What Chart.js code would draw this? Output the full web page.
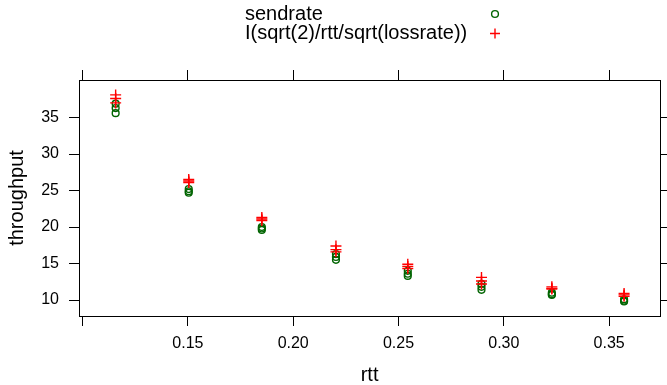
<!DOCTYPE html>
<html>
<head>
<meta charset="utf-8">
<script src="https://cdn.jsdelivr.net/npm/chart.js@4/dist/chart.umd.min.js"></script>
<style>
  html, body { margin: 0; padding: 0; background: #fff; }
  #wrap { position: relative; width: 667px; height: 385px; }
  #c { position: absolute; left: 0; top: 0; }
  .lg { position: absolute; left: 245px; font-family: "Liberation Sans", Arial, sans-serif; font-size: 20px; line-height: 19px; color: #000; white-space: nowrap; }
  #sym { position: absolute; left: 0; top: 0; }
</style>
</head>
<body>
<div id="wrap">
  <canvas id="c" width="667" height="385"></canvas>
  <div class="lg" style="top:4px">sendrate</div>
  <div class="lg" style="top:23px">I(sqrt(2)/rtt/sqrt(lossrate))</div>
  <svg id="sym" width="667" height="60">
    <circle cx="495" cy="14" r="3.4" fill="none" stroke="#006400" stroke-width="1.4"/>
    <path d="M490 33.5 H500 M495 28.5 V38.5" stroke="#ff0000" stroke-width="1.4" fill="none"/>
  </svg>
</div>
<script>
// ---- data ----
const rtt = [
  0.1157, 0.1157, 0.1157,
  0.1504, 0.1504, 0.1504,
  0.1851, 0.1851, 0.1851,
  0.2203, 0.2203, 0.2203,
  0.2544, 0.2544, 0.2544,
  0.2894, 0.2894, 0.2894,
  0.3228, 0.3228, 0.3228,
  0.3571, 0.3571, 0.3571
];
const sendrate = [
  36.9, 36.3, 35.6,
  25.2, 24.9, 24.7,
  20.0, 19.8, 19.6,
  16.3, 15.9, 15.5,
  14.0, 13.6, 13.3,
  12.2, 11.8, 11.4,
  11.0, 10.8, 10.7,
  10.1, 9.9, 9.8
];
const modelRate = [
  38.1, 37.6, 37.0,
  26.5, 26.3, 26.1,
  21.3, 21.1, 20.9,
  17.4, 16.9, 16.6,
  14.9, 14.6, 14.3,
  13.1, 12.6, 12.2,
  11.8, 11.6, 11.5,
  10.9, 10.7, 10.5
];
const xTicks = [0.10, 0.15, 0.20, 0.25, 0.30, 0.35];
const xTickLabels = ["", "0.15", "0.20", "0.25", "0.30", "0.35"];
const yTicks = [10, 15, 20, 25, 30, 35];
const yTickLabels = ["10", "15", "20", "25", "30", "35"];
const seriesNames = ["sendrate", "I(sqrt(2)/rtt/sqrt(lossrate))"];

const FONT = "'Liberation Sans', Arial, sans-serif";
const X_MIN = 0.0983, X_MAX = 0.3742, Y_MIN = 7.81, Y_MAX = 40.14;

function pts(ys) { return ys.map((y, i) => ({ x: rtt[i], y: y })); }

const setXTicks = s => { s.ticks = xTicks.map(v => ({ value: v })); };
const setYTicks = s => { s.ticks = yTicks.map(v => ({ value: v })); };
const tickGrid = { display: true, drawOnChartArea: false, drawTicks: true, tickLength: 10, color: '#000', lineWidth: 1 };
const border = { display: true, color: '#000', width: 1 };

new Chart(document.getElementById('c'), {
  type: 'scatter',
  data: {
    datasets: [
      {
        label: seriesNames[0], data: pts(sendrate), order: 1,
        pointStyle: 'circle', pointRadius: 3.4, pointBorderWidth: 1.4,
        borderColor: '#006400', backgroundColor: 'rgba(0,0,0,0)', pointHoverRadius: 3.4
      },
      {
        label: seriesNames[1], data: pts(modelRate), order: 0,
        pointStyle: 'cross', pointRadius: 5.5, pointBorderWidth: 1.4,
        borderColor: '#ff0000', backgroundColor: '#ff0000', pointHoverRadius: 5.5
      }
    ]
  },
  options: {
    responsive: false, animation: false, devicePixelRatio: 1,
    layout: { padding: { left: 0, right: 0, top: 80, bottom: 0 } },
    plugins: { legend: { display: false }, tooltip: { enabled: false } },
    scales: {
      x: {
        type: 'linear', position: 'bottom', min: X_MIN, max: X_MAX,
        afterBuildTicks: setXTicks,
        afterFit: s => { s.height = 69; },
        grid: tickGrid, border: border,
        ticks: { color: '#000', font: { family: FONT, size: 16 }, padding: 8, maxRotation: 0, autoSkip: false,
                 callback: (v) => { const i = xTicks.findIndex(t => Math.abs(t - v) < 1e-9); return i >= 0 ? xTickLabels[i] : ''; } },
        title: { display: true, text: 'rtt', color: '#000', font: { family: FONT, size: 20, lineHeight: 1 }, padding: { top: -2, bottom: 0 } }
      },
      x2: {
        type: 'linear', position: 'top', min: X_MIN, max: X_MAX,
        afterBuildTicks: setXTicks,
        afterFit: s => { s.height = 0; },
        grid: tickGrid, border: border,
        ticks: { callback: () => '', autoSkip: false }
      },
      y: {
        type: 'linear', position: 'left', min: Y_MIN, max: Y_MAX,
        afterBuildTicks: setYTicks,
        afterFit: s => { s.width = 79; },
        grid: tickGrid, border: border,
        ticks: { color: '#000', font: { family: FONT, size: 16 }, padding: 10, autoSkip: false,
                 callback: (v) => { const i = yTicks.indexOf(v); return i >= 0 ? yTickLabels[i] : ''; } },
        title: { display: true, text: 'throughput', color: '#000', font: { family: FONT, size: 20, lineHeight: 1 }, padding: { top: 7, bottom: 0 } }
      },
      y2: {
        type: 'linear', position: 'right', min: Y_MIN, max: Y_MAX,
        afterBuildTicks: setYTicks,
        afterFit: s => { s.width = 3; },
        grid: tickGrid, border: border,
        ticks: { callback: () => '', autoSkip: false }
      }
    }
  }
});
</script>
</body>
</html>
